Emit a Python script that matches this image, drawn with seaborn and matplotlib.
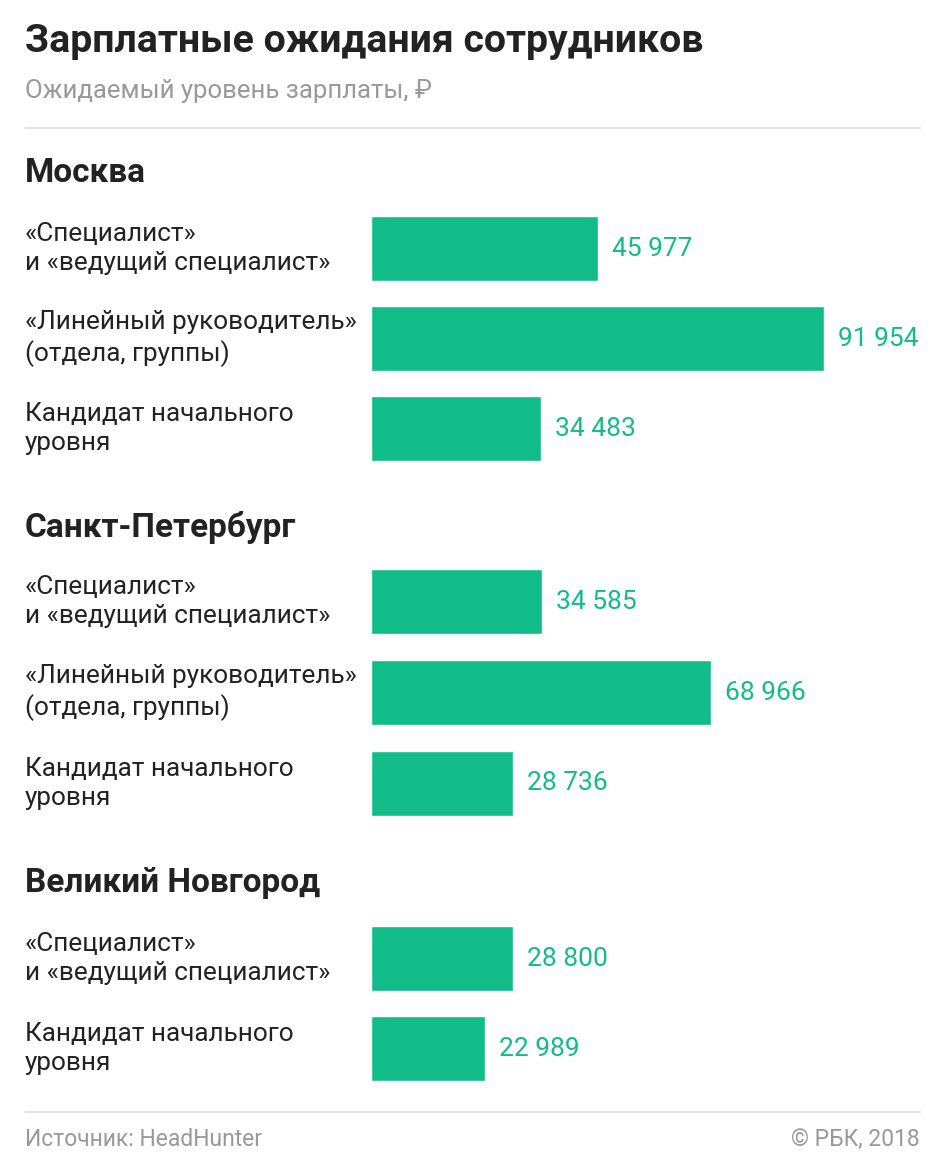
import matplotlib
matplotlib.use("Agg")
import matplotlib.pyplot as plt
import matplotlib.transforms as mtransforms
import seaborn as sns
import pandas as pd

# ---- data ----
cities = ["Москва", "Санкт-Петербург", "Великий Новгород"]
cat_spec = "«Специалист»\nи «ведущий специалист»"
cat_lead = "«Линейный руководитель»\n(отдела, группы)"
cat_entry = "Кандидат начального\nуровня"
moscow_cats = [cat_spec, cat_lead, cat_entry]
moscow_vals = [45977, 91954, 34483]
spb_cats = [cat_spec, cat_lead, cat_entry]
spb_vals = [34585, 68966, 28736]
novgorod_cats = [cat_spec, cat_entry]
novgorod_vals = [28800, 22989]

title = "Зарплатные ожидания сотрудников"
subtitle = "Ожидаемый уровень зарплаты, ₽"
source = "Источник: HeadHunter"
credit = "© РБК, 2018"

# ---- style ----
sns.set_theme(style="white")
FAM = ["Roboto", "DejaVu Sans"]
plt.rcParams["font.family"] = FAM
GREEN = "#12BC88"
DARK = "#222222"
GRAY = "#999999"

W, H = 945, 1169
fig = plt.figure(figsize=(W / 100, H / 100), dpi=100)
fig.patch.set_facecolor("white")

def fy(px):
    return 1 - px / H

def fx(px):
    return px / W

# header
fig.text(fx(25), fy(42), title, fontsize=28.3, fontweight="bold", color=DARK,
         va="center", ha="left")
fig.text(fx(25), fy(91), subtitle, fontsize=18.5, color=GRAY, va="center", ha="left")
fig.add_artist(plt.Line2D([fx(25), fx(920)], [fy(128), fy(128)], color="#dddddd", lw=1.2))

# footer
fig.add_artist(plt.Line2D([fx(25), fx(920)], [fy(1112), fy(1112)], color="#dddddd", lw=1.2))
fig.text(fx(25), fy(1139), source, fontsize=16.5, color=GRAY, va="center", ha="left")
fig.text(fx(920), fy(1139), credit, fontsize=16.5, color=GRAY, va="center", ha="right")

XMAX = 100000
PX_PER_UNIT = (825 - 372) / 91954
ax_w = XMAX * PX_PER_UNIT

groups = [
    (cities[0], moscow_cats, moscow_vals, 173, 248.5, 90),
    (cities[1], spb_cats, spb_vals, 527, 601.5, 91),
    (cities[2], novgorod_cats, novgorod_vals, 883, 958.5, 90),
]

for city, cats, vals, head_y, first_c, step in groups:
    n = len(cats)
    top = first_c - step / 2
    bottom = first_c + (n - 1) * step + step / 2
    ax = fig.add_axes([fx(371.5), fy(bottom), ax_w / W, (bottom - top) / H])
    df = pd.DataFrame({"cat": cats, "val": vals})
    sns.barplot(data=df, x="val", y="cat", orient="h", color=GREEN,
                saturation=1, width=65 / step, ax=ax)
    ax.set_xlim(0, XMAX)
    ax.set_ylim(n - 0.5, -0.5)
    ax.axis("off")
    trans = mtransforms.blended_transform_factory(fig.transFigure, ax.transData)
    for i, (c, v) in enumerate(zip(cats, vals)):
        ax.text(fx(25), i, c, transform=trans, fontsize=18.8, color=DARK,
                va="center", ha="left", linespacing=1.3)
        ax.annotate(f"{v:,}".replace(",", " "), xy=(v, i), xytext=(14, 0),
                    textcoords="offset pixels", fontsize=19, color=GREEN,
                    va="center", ha="left")
    fig.text(fx(25), fy(head_y), city, fontsize=24, fontweight="bold", color=DARK,
             va="center", ha="left")

fig.savefig("out.png", dpi=100, facecolor="white")
